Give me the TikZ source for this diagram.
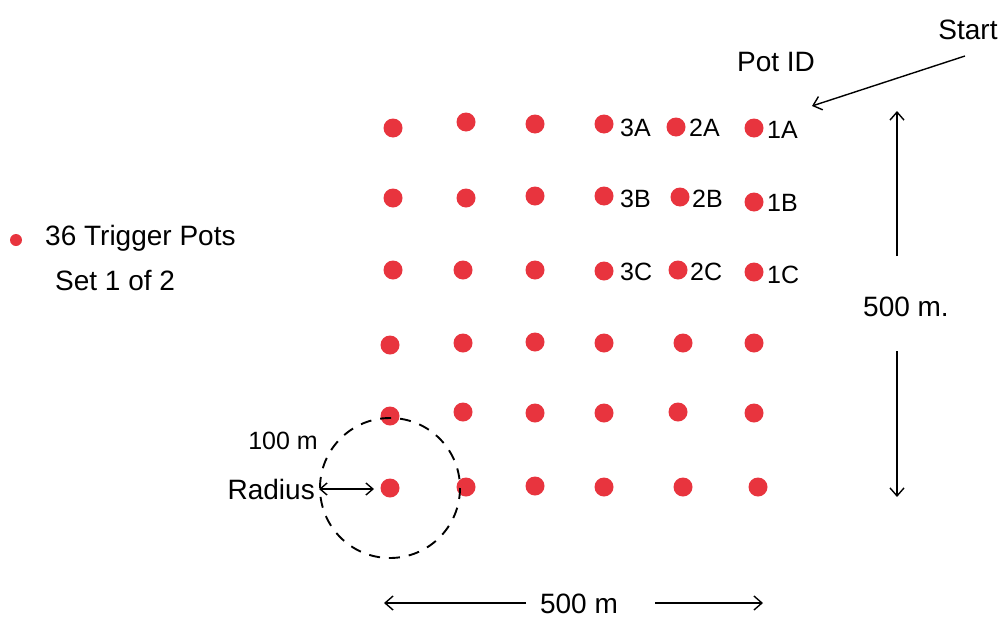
\documentclass[tikz,border=0pt]{standalone}
\usepackage{fontspec}
\setmainfont{Liberation Sans}
\usetikzlibrary{arrows.meta}
\definecolor{potred}{HTML}{E8343E}
\begin{document}
\begin{tikzpicture}[x=1pt,y=-1pt,
  pot/.style={circle,fill=potred,minimum size=19pt,inner sep=0pt},
  lbl/.style={font=\fontsize{25}{28}\selectfont,inner sep=1pt},
  big/.style={font=\fontsize{28}{32}\selectfont,inner sep=1pt},
  arr/.style={line width=1.4pt,-{Straight Barb[length=8pt,width=14pt,line width=1.4pt]}},
  darr/.style={line width=1.4pt,{Straight Barb[length=7pt,width=12pt,line width=1.4pt]}-{Straight Barb[length=7pt,width=12pt,line width=1.4pt]}}]
\useasboundingbox (0,0) rectangle (1006,624);
% pots
\node[pot] (p11) at (393,128) {};
\node[pot] (p12) at (466,122) {};
\node[pot] (p13) at (535,124) {};
\node[pot] (p14) at (604,124) {};
\node[pot] (p15) at (676,127) {};
\node[pot] (p16) at (754,128) {};
\node[pot] (p21) at (393,198) {};
\node[pot] (p22) at (466,198) {};
\node[pot] (p23) at (535,196) {};
\node[pot] (p24) at (604,196) {};
\node[pot] (p25) at (680,197) {};
\node[pot] (p26) at (754,202) {};
\node[pot] (p31) at (393,270) {};
\node[pot] (p32) at (463,270) {};
\node[pot] (p33) at (535,270) {};
\node[pot] (p34) at (604,271) {};
\node[pot] (p35) at (678,270) {};
\node[pot] (p36) at (754,272) {};
\node[pot] (p41) at (390,345) {};
\node[pot] (p42) at (463,343) {};
\node[pot] (p43) at (535,342) {};
\node[pot] (p44) at (604,343) {};
\node[pot] (p45) at (683,343) {};
\node[pot] (p46) at (754,343) {};
\node[pot] (p51) at (390,416) {};
\node[pot] (p52) at (463,412) {};
\node[pot] (p53) at (535,413) {};
\node[pot] (p54) at (604,413) {};
\node[pot] (p55) at (678,412) {};
\node[pot] (p56) at (754,413) {};
\node[pot] (p61) at (390,488) {};
\node[pot] (p62) at (466,487) {};
\node[pot] (p63) at (535,486) {};
\node[pot] (p64) at (604,487) {};
\node[pot] (p65) at (683,487) {};
\node[pot] (p66) at (758,487) {};
% pot IDs
\node[lbl,anchor=west] (l3a) at (619,128) {3A};
\node[lbl,anchor=west] (l2a) at (688,128) {2A};
\node[lbl,anchor=west] (l1a) at (766,130) {1A};
\node[lbl,anchor=west] (l3b) at (619,199) {3B};
\node[lbl,anchor=west] (l2b) at (691,199) {2B};
\node[lbl,anchor=west] (l1b) at (766,203) {1B};
\node[lbl,anchor=west] (l3c) at (619,272) {3C};
\node[lbl,anchor=west] (l2c) at (689,272) {2C};
\node[lbl,anchor=west] (l1c) at (766,275) {1C};
% headers
\node[big] (potid) at (776,62) {Pot ID};
\node[big] (start) at (968,30) {Start};
\coordinate (startarr) at (965,56);
\coordinate (startend) at (812,106);
\draw[arr] (startarr) -- (startend);
% vertical dimension
\node[big] (vdim) at (906,307) {500 m.};
\coordinate (vtop) at (897,111);
\coordinate (vbot) at (897,497);
\draw[arr] (897,256) -- (vtop);
\draw[arr] (897,351) -- (vbot);
% horizontal dimension
\node[big] (hdim) at (579,604) {500 m};
\coordinate (hl) at (384,603);
\coordinate (hr) at (763,603);
\draw[arr] (526,603) -- (hl);
\draw[arr] (655,603) -- (hr);
% legend
\node[pot,minimum size=12pt] (leg) at (16,240) {};
\node[big,anchor=west] (leg1) at (44,238) {36 Trigger Pots};
\node[big,anchor=west] (leg2) at (54,281) {Set 1 of 2};
% radius circle
\draw[line width=1.9pt,dash pattern=on 11pt off 9pt] (p61.center) circle[radius=70];
\node[lbl] (r100) at (283,441) {100 m};
\node[big,anchor=east] (rad) at (316,489) {Radius};
\draw[darr] (rad.east) ++(3,0) coordinate (ra) -- (374,489) coordinate (rb);
\end{tikzpicture}
\end{document}
